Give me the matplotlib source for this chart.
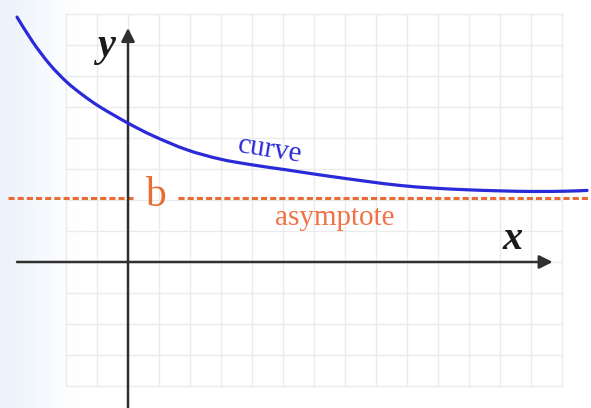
import numpy as np
import matplotlib
matplotlib.use("Agg")
import matplotlib.pyplot as plt
from matplotlib.path import Path
from matplotlib.patches import PathPatch

# Decaying curve approaching a horizontal asymptote y = b
curve_x = [-3.58, -3.06, -2.52, -1.97, -1.45, -0.90, 0.0, 0.81, 1.90, 2.97,
           4.03, 5.13, 6.19, 7.71, 8.77, 9.84, 10.94, 12.0, 13.06, 14.16, 14.81]
curve_y = [7.90, 7.08, 6.37, 5.80, 5.38, 5.00, 4.48, 4.07, 3.62, 3.32,
           3.13, 2.97, 2.81, 2.60, 2.47, 2.385, 2.33, 2.295, 2.275, 2.285, 2.31]
asymptote_b = 2.08

grid_x = list(range(-2, 15))
grid_y = list(range(-4, 9))


def smooth_path(xs, ys, tension=0.5):
    """Cubic Bezier path passing through every point (Catmull-Rom style)."""
    pts = np.column_stack([xs, ys]).astype(float)
    n = len(pts)
    verts = [pts[0]]
    codes = [Path.MOVETO]
    for i in range(n - 1):
        p0 = pts[i - 1] if i > 0 else pts[i]
        p1, p2 = pts[i], pts[i + 1]
        p3 = pts[i + 2] if i + 2 < n else pts[i + 1]
        c1 = p1 + (p2 - p0) * tension / 3
        c2 = p2 - (p3 - p1) * tension / 3
        verts += [c1, c2, p2]
        codes += [Path.CURVE4] * 3
    return Path(verts, codes)


fig = plt.figure(figsize=(5.91, 4.08), dpi=100)
ax = fig.add_axes([0, 0, 1, 1])
xmin, xmax = -128 / 31, 463 / 31
ymin, ymax = (262 - 408) / 31, 262 / 31
ax.set_xlim(xmin, xmax)
ax.set_ylim(ymin, ymax)
ax.axis("off")

# soft bluish wash on the left edge
grad = np.linspace(0, 1, 300)
alpha = np.clip(1 - grad / 0.14, 0, 1) ** 1.2
img = np.ones((2, 300, 4))
img[..., 0] = 0.925
img[..., 1] = 0.950
img[..., 2] = 0.985
img[..., 3] = alpha
ax.imshow(img, extent=(xmin, xmax, ymin, ymax), aspect="auto", zorder=0)

# background grid
gc = "#ebebeb"
for gx in grid_x:
    ax.plot([gx, gx], [grid_y[0], grid_y[-1]], color=gc, lw=1.0, zorder=1)
for gy in grid_y:
    ax.plot([grid_x[0], grid_x[-1]], [gy, gy], color=gc, lw=1.0, zorder=1)

# coordinate axes with arrow heads
axc = "#303030"
ax.annotate("", xy=(13.7, 0), xytext=(-3.58, 0),
            arrowprops=dict(arrowstyle="-|>", mutation_scale=20, lw=1.8,
                            color=axc, shrinkA=0, shrinkB=0), zorder=3)
ax.annotate("", xy=(0, 7.55), xytext=(0, ymin - 0.2),
            arrowprops=dict(arrowstyle="-|>", mutation_scale=20, lw=1.8,
                            color=axc, shrinkA=0, shrinkB=0), zorder=3)

# asymptote, broken around its label
orange = "#e86c34"
ax.plot([-3.87, 0.17], [asymptote_b, asymptote_b], color=orange, lw=2.2,
        dashes=(2.0, 1.0), zorder=2)
ax.plot([1.6, xmax], [asymptote_b, asymptote_b], color=orange, lw=2.2,
        dashes=(2.0, 1.0), zorder=2)

# the curve
ax.add_patch(PathPatch(smooth_path(curve_x, curve_y), facecolor="none",
                       edgecolor="#2a2ad8", lw=2.3, capstyle="round",
                       joinstyle="round", zorder=4))

serif = ["Liberation Serif", "DejaVu Serif"]
ax.text(-0.7, 6.95, "y", fontsize=29, fontweight="bold", fontstyle="italic",
        family=serif, color="#1a1a1a", ha="center", va="center", zorder=5)
ax.text(12.42, 0.72, "x", fontsize=29, fontweight="bold", fontstyle="italic",
        family=serif, color="#1a1a1a", ha="center", va="center", zorder=5)
ax.text(4.58, 3.6, "curve", fontsize=21, family=serif, color="#2a2ad8",
        rotation=-9, ha="center", va="center", zorder=5)
ax.text(0.9, 2.15, "b", fontsize=30, family=serif, color=orange,
        ha="center", va="center", zorder=5)
ax.text(6.68, 1.42, "asymptote", fontsize=21, family=serif, color="#f07246",
        ha="center", va="center", zorder=5)

fig.savefig("out.png", dpi=100)
